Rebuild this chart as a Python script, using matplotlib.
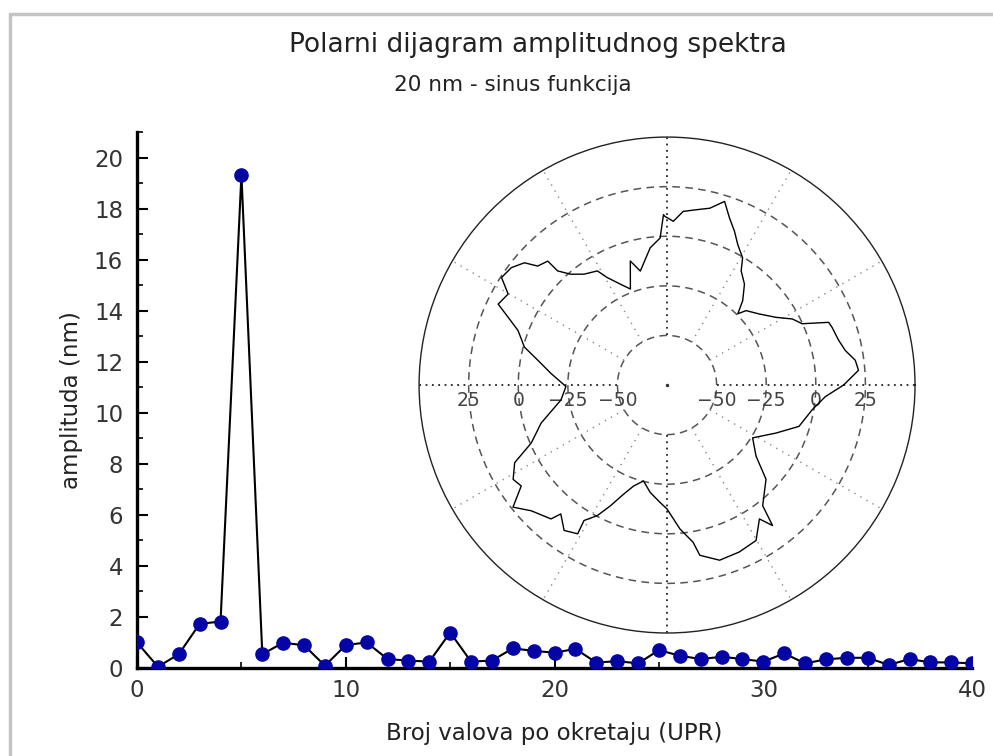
import numpy as np
import matplotlib
matplotlib.use('Agg')
import matplotlib.pyplot as plt
from matplotlib.patches import Rectangle
from matplotlib.ticker import MultipleLocator

# amplitude spectrum (UPR -> amplitude in nm)
upr = list(range(41))
amp = [1.0, 0.05, 0.54, 1.73, 1.82, 19.33, 0.54, 0.99, 0.89, 0.09,
       0.9, 1.0, 0.35, 0.29, 0.25, 1.39, 0.25, 0.29, 0.77, 0.67,
       0.6, 0.75, 0.21, 0.27, 0.18, 0.7, 0.48, 0.35, 0.44, 0.35,
       0.25, 0.57, 0.18, 0.34, 0.4, 0.4, 0.12, 0.35, 0.22, 0.22, 0.18]

# polar profile (angle in degrees, radius)
prof_deg = [0, 4.4, 7.5, 11, 14.6, 19.3, 21.2, 24.4, 27.8, 31.9,
            37.6, 43.3, 45.2, 48.1, 52.5, 57, 59.3, 63.3, 66.3, 69.5,
            72.6, 76.4, 80.5, 84.7, 87.8, 90.7, 91.2, 92.7, 97, 103.2,
            106.5, 110.9, 114.8, 119.1, 121.4, 126.8, 131, 133.8, 133.9, 137.4,
            139.4, 143, 147, 150.2, 154.4, 156.9, 159.9, 165.1, 170.3, 174.3,
            180, 180.9, 188, 196.8, 203.1, 207, 211.5, 214.7, 218.4, 222.8,
            229.1, 230.5, 234.7, 239, 238.5, 241.9, 244.9, 248.3, 251.7, 256.2,
            261.1, 266.6, 270, 275.1, 279.4, 280.9, 286.7, 293.4, 299.8, 304.6,
            306.9, 308.4, 316.4, 321.4, 328.3, 336.2, 342.6, 350.3, 355.8, 360]
prof_r = [14, 21.8, 20.7, 16.5, 14.4, 13.1, 12.4, -0.2, -3.6, -10.4,
          -16.3, -20.3, -24.4, -17.9, -10.9, -6.4, -0.4, 4.3, 9.6, 14.9,
          22, 16.7, 14.6, 12.9, 7.6, 10, 10.9, -0.8, -5.3, -16,
          -9.8, -23.2, -19, -13, -7.6, -5.2, -1, 4.7, 11.7, 13.6,
          19.7, 23.3, 24.5, 17.3, 19.4, 12.1, 5, -0.6, -10.6, -16.2,
          -23.2, -24, -21, -8.7, -0.6, 11.2, 16, 14.4, 24.1, 18.3,
          14.3, 9.2, 14.8, 12.5, 5.1, -0.4, -7.8, -15.8, -21.4, -25.2,
          -20.2, -15.7, -12.5, -2.2, 5.3, 12.4, 17.2, 16.7, 15.3, 7,
          13.6, 2.6, -6.1, -17.6, -24.3, -15, -5.3, -0.8, 5, 14]

r_min, r_max = -75, 50
r_rings = [-50, -25, 0, 25]
spoke_deg = list(range(0, 360, 30))

fig = plt.figure(figsize=(9.93, 7.56), dpi=100)

# light grey frame (cut off at right and bottom)
fig.add_artist(Rectangle((0.010, -0.05), 1.2, 0.05 + 0.982, fill=False,
                         edgecolor='#c4c4c4', lw=2.5, transform=fig.transFigure))

fig.text(0.542, 0.940, 'Polarni dijagram amplitudnog spektra', ha='center', va='center',
         fontsize=19, color='#222222')
fig.text(0.516, 0.887, '20 nm - sinus funkcija', ha='center', va='center',
         fontsize=15.5, color='#222222')

# main spectrum axes
ax = fig.add_axes([0.138, 0.1164, 0.841, 0.709])
ax.plot(upr, amp, color='black', lw=1.5, marker='o', markersize=9.5,
        markerfacecolor='#0505a5', markeredgecolor='#0505a5', zorder=3)
ax.set_xlim(0, 40)
ax.set_ylim(0, 21)
ax.spines['top'].set_visible(False)
ax.spines['right'].set_visible(False)
ax.spines['left'].set_linewidth(2.4)
ax.spines['bottom'].set_linewidth(2.4)
ax.xaxis.set_major_locator(MultipleLocator(10))
ax.xaxis.set_minor_locator(MultipleLocator(5))
ax.yaxis.set_major_locator(MultipleLocator(2))
ax.yaxis.set_minor_locator(MultipleLocator(1))
ax.tick_params(which='both', direction='in', colors='black', labelcolor='#333333',
               labelsize=16.5)
ax.tick_params(which='major', length=8, width=1.5)
ax.tick_params(which='minor', length=4.5, width=1.2)
ax.tick_params(axis='y', pad=10)
ax.tick_params(axis='x', pad=8)
ax.set_xlabel('Broj valova po okretaju (UPR)', fontsize=16.5, color='#222222', labelpad=14)
ax.set_ylabel('amplituda (nm)', fontsize=16.5, color='#222222', labelpad=8)

# polar inset
pax = fig.add_axes([0.4220, 0.1627, 0.4995, 0.656], projection='polar')
pax.set_facecolor('none')
pax.set_rlim(r_min, r_max)
pax.grid(False)
pax.set_xticks([])
pax.set_yticks([])
pax.spines['polar'].set_linewidth(1.0)
pax.spines['polar'].set_color('#222222')

theta_full = np.linspace(0, 2 * np.pi, 400)
for rv in r_rings:
    pax.plot(theta_full, [rv] * len(theta_full), color='#555555', lw=1.1,
             linestyle=(0, (5, 3.5)))
for d in spoke_deg:
    th = np.deg2rad(d)
    if d % 90 == 0:
        pax.plot([th, th], [r_rings[0], r_max], color='#222222', lw=1.3,
                 linestyle=(0, (1, 2.5)))
    else:
        pax.plot([th, th], [r_rings[0], r_max], color='#888888', lw=1.0,
                 linestyle=(0, (1, 4)))
pax.plot([0], [r_min], marker='o', markersize=1.5, color='#333333')

pax.plot(np.deg2rad(prof_deg), prof_r, color='black', lw=1.0, zorder=4)

for rv in r_rings:
    lab = str(rv).replace('-', '\u2212')
    for ang in (0, np.pi):
        pax.annotate(lab, (ang, rv), xytext=(0, -11), textcoords='offset points',
                     ha='center', va='center', fontsize=13.5, color='#444444',
                     annotation_clip=False)

fig.savefig('out.png', dpi=100)
